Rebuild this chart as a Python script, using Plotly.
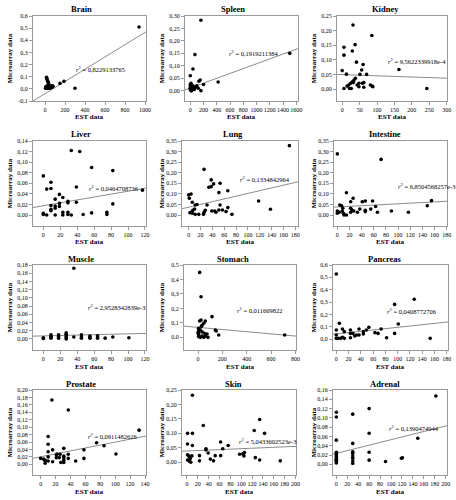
import plotly.graph_objects as go

# ---------------- data ----------------
titles = ["Brain", "Spleen", "Kidney", "Liver", "Lung", "Intestine",
          "Muscle", "Stomach", "Pancreas", "Prostate", "Skin", "Adrenal"]

brain_x = [940, 300, 190, 150, 15, 18, 22, 26, 30, 34, 38, 5, 10, 15, 20, 25, 30, 35, 40, 45, 50, 55, 60, 65, 70, 75, 80, 12, 22, 32, 42, 52, 62, 72, 8, 28, 48]
brain_y = [0.51, 0.005, 0.062, 0.045, 0.095, 0.085, 0.075, 0.065, 0.058, 0.048, 0.04, 0.005, 0.01, 0.008, 0.012, 0.01, 0.015, 0.012, 0.018, 0.01, 0.012, 0.015, 0.01, 0.018, 0.012, 0.02, 0.022, 0.02, 0.025, 0.022, 0.028, 0.02, 0.015, 0.025, 0.015, 0.005, 0.005]

spleen_x = [1500, 420, 160, 70, 40, 0, 200, 150, 130, 160, 100, 80, 60, 50, 30, 20, 10, 5, 0, 0, 0, 0, 10, 40, 60, 120, 30, 20]
spleen_y = [0.15, 0.035, 0.283, 0.145, 0.087, 0.06, 0.025, 0.043, 0.038, 0.0, 0.02, 0.015, 0.01, 0.01, 0.005, 0.0, 0.03, 0.02, 0.005, 0.01, 0.015, 0.025, 0.0, 0.02, 0.005, 0.01, 0.015, 0.01]

kidney_x = [31, 85, 5, 37, 5, 29, 41, 60, 0, 12, 51, 70, 56, 163, 243, 5, 19, 24, 29, 34, 38, 21, 26, 43, 48, 48, 58, 62, 62, 81, 86, 88, 32, 14]
kidney_y = [0.219, 0.183, 0.143, 0.152, 0.116, 0.130, 0.092, 0.084, 0.063, 0.051, 0.050, 0.050, 0.065, 0.067, 0.002, 0.002, 0.014, 0.020, 0.025, 0.031, 0.037, 0.002, 0.002, 0.014, 0.008, 0.020, 0.020, 0.022, 0.006, 0.014, 0.010, 0.008, 0.022, 0.010]

liver_x = [33, 43, 57, 82, 0, 9, 4, 9, 39, 117, 19, 14, 23, 19, 39, 29, 29, 82, 9, 14, 9, 14, 19, 9, 0, 0, 4, 14, 23, 23, 29, 29, 33, 47, 57, 75, 75]
liver_y = [0.122, 0.12, 0.09, 0.084, 0.074, 0.062, 0.049, 0.05, 0.053, 0.047, 0.039, 0.03, 0.033, 0.022, 0.024, 0.023, 0.026, 0.021, 0.018, 0.017, 0.011, 0.013, 0.016, 0.008, 0.001, 0.003, 0.0, 0.0, 0.0, 0.005, 0.005, 0.001, 0.0, 0.001, 0.004, 0.001, 0.005]

lung_x = [170, 26, 38, 42, 53, 34, 38, 66, 51, 0, 4, 1, 6, 11, 14, 10, 7, 4, 6, 2, 17, 11, 25, 26, 28, 31, 39, 44, 46, 51, 53, 57, 63, 66, 73, 118, 138]
lung_y = [0.328, 0.216, 0.166, 0.147, 0.15, 0.131, 0.134, 0.115, 0.106, 0.095, 0.099, 0.079, 0.06, 0.047, 0.05, 0.028, 0.022, 0.013, 0.008, 0.011, 0.003, 0.003, 0.003, 0.013, 0.022, 0.047, 0.019, 0.019, 0.013, 0.024, 0.047, 0.024, 0.016, 0.035, 0.003, 0.066, 0.027]

intestine_x = [0, 72, 15, 26, 22, 41, 46, 58, 63, 55, 46, 46, 4, 3, 0, 0, 7, 9, 8, 10, 15, 11, 22, 24, 27, 33, 37, 22, 66, 89, 117, 148, 155]
intestine_y = [0.289, 0.263, 0.105, 0.079, 0.063, 0.063, 0.066, 0.066, 0.04, 0.028, 0.022, 0.016, 0.047, 0.013, 0.008, 0.019, 0.044, 0.032, 0.019, 0.008, 0.0, 0.0, 0.013, 0.024, 0.019, 0.013, 0.028, 0.032, 0.013, 0.019, 0.013, 0.044, 0.068]

muscle_x = [36, 0, 0, 9, 9, 9, 9, 18, 18, 18, 27, 27, 27, 27, 27, 27, 36, 45, 45, 45, 55, 55, 55, 64, 64, 64, 73, 82, 101]
muscle_y = [0.172, 0.001, 0.003, 0.004, 0.006, 0.010, 0.002, 0.006, 0.010, 0.002, 0.012, 0.010, 0.006, 0.003, 0.0, 0.015, 0.005, 0.010, 0.005, 0.002, 0.005, 0.002, 0.007, 0.005, 0.002, 0.008, 0.002, 0.005, 0.003]

stomach_x = [14, 25, 115, 14, 25, 60, 47, 33, 27, 5, 5, 19, 33, 52, 74, 142, 150, 170, 5, 5, 19, 33, 47, 60, 82, 5, 0, 712]
stomach_y = [0.449, 0.281, 0.143, 0.113, 0.12, 0.113, 0.097, 0.083, 0.074, 0.046, 0.062, 0.051, 0.039, 0.028, 0.023, 0.051, 0.044, 0.016, 0.016, 0.005, 0.0, 0.009, 0.0, 0.009, 0.0, 0.028, 0.032, 0.016]

pancreas_x = [0, 127, 95, 5, 153, 101, 95, 82, 73, 53, 49, 44, 44, 37, 37, 33, 23, 23, 23, 13, 10, 7, 10, 0, 0, 0, 3, 13, 27, 30, 63, 68]
pancreas_y = [0.527, 0.323, 0.282, 0.129, 0.008, 0.124, 0.048, 0.013, 0.083, 0.097, 0.075, 0.062, 0.043, 0.083, 0.035, 0.035, 0.075, 0.048, 0.013, 0.062, 0.083, 0.008, 0.016, 0.035, 0.075, 0.008, 0.008, 0.008, 0.048, 0.027, 0.054, 0.048]

prostate_x = [15, 37, 132, 10, 75, 85, 101, 10, 31, 58, 16, 10, 26, 21, 22, 37, 31, 31, 31, 31, 25, 27, 10, 10, 16, 6, 6, 0, 4, 37, 47, 58, 21, 6]
prostate_y = [0.173, 0.146, 0.092, 0.075, 0.058, 0.05, 0.028, 0.054, 0.043, 0.039, 0.039, 0.034, 0.027, 0.025, 0.028, 0.027, 0.022, 0.018, 0.011, 0.005, 0.018, 0.005, 0.02, 0.009, 0.007, 0.009, 0.003, 0.016, 0.014, 0.016, 0.009, 0.016, 0.018, 0.011]

skin_x = [10, 30, 134, 124, 143, 1, 10, 1, 10, 62, 76, 66, 35, 35, 39, 1, 3, 5, 6, 1, 4, 7, 9, 23, 23, 43, 49, 52, 62, 97, 103, 105, 106, 126, 134, 172]
skin_y = [0.232, 0.127, 0.148, 0.11, 0.10, 0.10, 0.10, 0.063, 0.058, 0.07, 0.058, 0.047, 0.047, 0.043, 0.032, 0.026, 0.022, 0.018, 0.012, 0.008, 0.004, 0.0, 0.022, 0.023, 0.005, 0.011, 0.005, 0.023, 0.023, 0.028, 0.029, 0.022, 0.034, 0.016, 0.008, 0.005]

adrenal_x = [182, 60, 0, 0, 30, 60, 0, 30, 149, 60, 30, 30, 30, 30, 30, 30, 0, 0, 0, 0, 0, 0, 0, 0, 0, 60, 90, 119, 121]
adrenal_y = [0.147, 0.12, 0.112, 0.102, 0.108, 0.067, 0.052, 0.045, 0.056, 0.026, 0.027, 0.024, 0.018, 0.013, 0.007, 0.002, 0.026, 0.023, 0.02, 0.017, 0.014, 0.011, 0.009, 0.006, 0.003, 0.009, 0.006, 0.013, 0.014]

# regression lines
fit_slope = [0.000504, 0.0000974, -0.0000413, 0.000275, 0.00065, 0.00015,
             0.00005, -0.0000752, 0.00053, 0.000395, 0.00008, 0.000294]
fit_intercept = [-0.0395, 0.0108, 0.0494, 0.0175, 0.037, 0.038,
                 0.0075, 0.069, 0.044, 0.0203, 0.039, 0.0236]
r2_text = ["0,8229133765", "0,1919211384", "9,5622339918e-4", "0,0464708736",
           "0,1334842964", "6,8504568257e-3", "2,9528342839e-3", "0,011669822",
           "0,0408772706", "0,0911482626", "5,0433602523e-3", "0,1390474944"]
r2_pos_x = [285, 560, 125, 52, 83, 96, 50, 307, 80, 61, 92, 93]
r2_pos_y = [0.16, 0.15, 0.096, 0.052, 0.17, 0.137, 0.079, 0.189, 0.23, 0.077, 0.072, 0.079]

# axis ranges and ticks
x_ranges = [[-120, 1010], [-80, 1625], [-15, 301], [-12.2, 121.2], [-11.3, 184.5], [-5.5, 180.5],
            [-12.2, 121.2], [-115, 805], [-5.4, 182], [-10.3, 141.3], [-9.2, 201], [-6.1, 202.4]]
y_ranges = [[-0.1, 0.6], [-0.0415, 0.30], [-0.041, 0.25], [-0.0208, 0.14], [-0.052, 0.35], [-0.052, 0.35],
            [-0.0268, 0.18], [-0.0876, 0.5], [-0.086, 0.6], [-0.0287, 0.2], [-0.044, 0.25], [-0.023, 0.16]]

x_ticks = [[0, 200, 400, 600, 800, 1000],
           [0, 200, 400, 600, 800, 1000, 1200, 1400, 1600],
           [0, 50, 100, 150, 200, 250, 300],
           [0, 20, 40, 60, 80, 100, 120],
           [0, 20, 40, 60, 80, 100, 120, 140, 160, 180],
           [0, 20, 40, 60, 80, 100, 120, 140, 160, 180],
           [0, 20, 40, 60, 80, 100, 120],
           [0, 200, 400, 600, 800],
           [0, 20, 40, 60, 80, 100, 120, 140, 160, 180],
           [0, 20, 40, 60, 80, 100, 120, 140],
           [0, 20, 40, 60, 80, 100, 120, 140, 160, 180, 200],
           [0, 20, 40, 60, 80, 100, 120, 140, 160, 180, 200]]
y_ticks = [[-0.1, 0.0, 0.1, 0.2, 0.3, 0.4, 0.5, 0.6],
           [0.0, 0.05, 0.10, 0.15, 0.20, 0.25, 0.30],
           [0.0, 0.05, 0.10, 0.15, 0.20, 0.25],
           [0.0, 0.02, 0.04, 0.06, 0.08, 0.10, 0.12, 0.14],
           [0.0, 0.05, 0.10, 0.15, 0.20, 0.25, 0.30, 0.35],
           [0.0, 0.05, 0.10, 0.15, 0.20, 0.25, 0.30, 0.35],
           [0.0, 0.02, 0.04, 0.06, 0.08, 0.10, 0.12, 0.14, 0.16, 0.18],
           [0.0, 0.1, 0.2, 0.3, 0.4, 0.5],
           [0.0, 0.1, 0.2, 0.3, 0.4, 0.5, 0.6],
           [0.0, 0.02, 0.04, 0.06, 0.08, 0.10, 0.12, 0.14, 0.16, 0.18, 0.20],
           [0.0, 0.05, 0.10, 0.15, 0.20, 0.25],
           [0.0, 0.02, 0.04, 0.06, 0.08, 0.10, 0.12, 0.14, 0.16]]
y_tick_labels = [["-0,1", "0,0", "0,1", "0,2", "0,3", "0,4", "0,5", "0,6"],
                 ["0,00", "0,05", "0,10", "0,15", "0,20", "0,25", "0,30"],
                 ["0,00", "0,05", "0,10", "0,15", "0,20", "0,25"],
                 ["0,00", "0,02", "0,04", "0,06", "0,08", "0,10", "0,12", "0,14"],
                 ["0,00", "0,05", "0,10", "0,15", "0,20", "0,25", "0,30", "0,35"],
                 ["0,00", "0,05", "0,10", "0,15", "0,20", "0,25", "0,30", "0,35"],
                 ["0,00", "0,02", "0,04", "0,06", "0,08", "0,10", "0,12", "0,14", "0,16", "0,18"],
                 ["0,0", "0,1", "0,2", "0,3", "0,4", "0,5"],
                 ["0,0", "0,1", "0,2", "0,3", "0,4", "0,5", "0,6"],
                 ["0,00", "0,02", "0,04", "0,06", "0,08", "0,10", "0,12", "0,14", "0,16", "0,18", "0,20"],
                 ["0,00", "0,05", "0,10", "0,15", "0,20", "0,25"],
                 ["0,00", "0,02", "0,04", "0,06", "0,08", "0,10", "0,12", "0,14", "0,16"]]

xs = [brain_x, spleen_x, kidney_x, liver_x, lung_x, intestine_x,
      muscle_x, stomach_x, pancreas_x, prostate_x, skin_x, adrenal_x]
ys = [brain_y, spleen_y, kidney_y, liver_y, lung_y, intestine_y,
      muscle_y, stomach_y, pancreas_y, prostate_y, skin_y, adrenal_y]

# ---------------- layout geometry (pixels) ----------------
W, H = 456, 500
col_off = [0, 152, 304]
row_off = [0, 125, 250, 375]
# plot box within each panel: left, right, top, bottom
boxes = [(33, 146, 16, 101), (33, 146, 16, 101), (33, 143, 16, 101),
         (33, 146, 16, 101), (30, 146, 16, 101), (30, 143, 16, 101),
         (33, 146, 15, 100), (32, 144, 15, 100), (29, 144, 15, 100),
         (33, 146, 15, 100), (30, 144, 15, 100), (29, 143, 15, 100)]

SERIF = "Liberation Serif, Times New Roman, serif"
FRAME = "#9a9a9a"

fig = go.Figure()
layout = dict(width=W, height=H, margin=dict(l=0, r=0, t=0, b=0),
              paper_bgcolor="white", plot_bgcolor="white", showlegend=False,
              hovermode=False)
annotations = []

for i in range(12):
    r, c = divmod(i, 3)
    cx, ry = col_off[c], row_off[r]
    l, rt, t, b = boxes[i]
    ax = "" if i == 0 else str(i + 1)
    xd = [(cx + l) / W, (cx + rt) / W]
    yd = [1 - (ry + b) / H, 1 - (ry + t) / H]
    common = dict(showline=True, mirror=True, linecolor=FRAME, linewidth=1,
                  ticks="outside", ticklen=3, tickcolor=FRAME, tickwidth=1,
                  showgrid=False, zeroline=False, tickangle=0, automargin=False,
                  tickfont=dict(family=SERIF, size=6, color="black"))
    layout["xaxis" + ax] = dict(domain=xd, anchor="y" + ax, range=x_ranges[i],
                                tickmode="array", tickvals=x_ticks[i],
                                ticktext=[str(v) for v in x_ticks[i]], **common)
    layout["yaxis" + ax] = dict(domain=yd, anchor="x" + ax, range=y_ranges[i],
                                tickmode="array", tickvals=y_ticks[i],
                                ticktext=y_tick_labels[i], **common)
    # regression line
    x0, x1 = x_ranges[i]
    fig.add_trace(go.Scatter(x=[x0, x1],
                             y=[fit_intercept[i] + fit_slope[i] * x0, fit_intercept[i] + fit_slope[i] * x1],
                             mode="lines", line=dict(color="#8c8c8c", width=1),
                             xaxis="x" + ax, yaxis="y" + ax, cliponaxis=True))
    # points
    fig.add_trace(go.Scatter(x=xs[i], y=ys[i], mode="markers",
                             marker=dict(color="black", size=3.6),
                             xaxis="x" + ax, yaxis="y" + ax))
    # r^2 label
    annotations.append(dict(x=r2_pos_x[i], y=r2_pos_y[i], xref="x" + ax, yref="y" + ax,
                            text="<i>r</i><sup>2</sup> = " + r2_text[i], showarrow=False,
                            xanchor="left", yanchor="middle",
                            font=dict(family=SERIF, size=6.5, color="black")))
    # title
    annotations.append(dict(x=(cx + 81) / W, y=1 - (ry + 9) / H, xref="paper", yref="paper",
                            text="<b>" + titles[i] + "</b>", showarrow=False,
                            xanchor="center", yanchor="middle",
                            font=dict(family=SERIF, size=8.5, color="black")))
    # axis titles
    annotations.append(dict(x=(cx + 9) / W, y=1 - (ry + (t + b) / 2) / H, xref="paper", yref="paper",
                            text="<b>Microarray data</b>", showarrow=False, textangle=-90,
                            xanchor="center", yanchor="middle",
                            font=dict(family=SERIF, size=7, color="black")))
    annotations.append(dict(x=(cx + (l + rt) / 2) / W, y=1 - (ry + 117) / H, xref="paper", yref="paper",
                            text="<b>EST data</b>", showarrow=False,
                            xanchor="center", yanchor="middle",
                            font=dict(family=SERIF, size=7, color="black")))

layout["annotations"] = annotations
fig.update_layout(**layout)
fig.write_html("out.html", config={"displayModeBar": False, "staticPlot": True},
               post_script="document.body.style.margin='0px';document.body.style.overflow='hidden';")
